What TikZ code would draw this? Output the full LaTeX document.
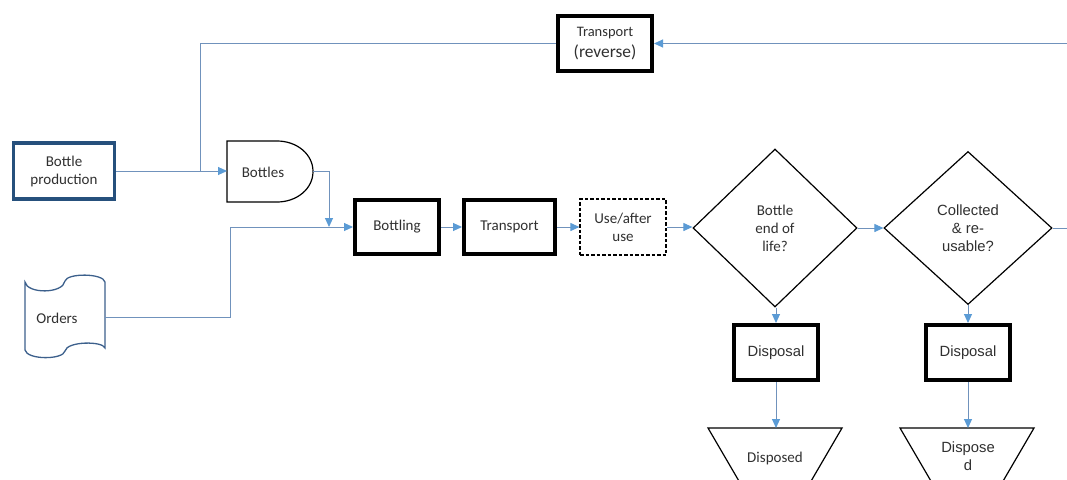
\documentclass[tikz,border=0pt]{standalone}
\usepackage{fontspec}
\setmainfont{Carlito}
\newfontfamily\arialfont{Liberation Sans}
\usetikzlibrary{arrows.meta,shapes.geometric}

\definecolor{txt}{HTML}{303030}
\definecolor{conn}{RGB}{112,146,188}
\definecolor{tip}{HTML}{5B9BD5}
\definecolor{navy}{RGB}{38,80,124}
\definecolor{ordblue}{RGB}{60,96,140}

\tikzset{
  base/.style={font=\fontsize{15}{18}\selectfont, text=txt, align=center, inner sep=0pt},
  heavybox/.style={base, draw=black, line width=4pt, fill=white},
  usebox/.style={base, draw=black, line width=1.2pt, dash pattern=on 3.5pt off 2pt, fill=white},
  prodbox/.style={base, draw=navy, line width=3.2pt, fill=white},
  decision/.style={base, draw=black, line width=1.2pt, shape=diamond, fill=white},
  arialtext/.style={font=\arialfont\fontsize{14.8}{18}\selectfont},
  flow/.style={draw=conn, line width=1pt},
  flowarrow/.style={flow, -{Triangle[length=9pt,width=8pt,color=tip,fill=tip]}},
  plainlabel/.style={base}
}

\begin{document}
\begin{tikzpicture}[x=1pt,y=-1pt]
\useasboundingbox (0,0) rectangle (1067,479);
\clip (0,0) rectangle (1067,479);
\fill[white] (0,0) rectangle (1067,479);

% ---- process boxes ----
\node[prodbox, minimum width=101pt, minimum height=56pt] (bprod) at (64,171) {Bottle\\production};
\node[heavybox, minimum width=94pt, minimum height=55pt] (trev) at (605,43.5)
  {\fontsize{14.5}{17}\selectfont Transport\\[3pt]{\fontsize{17.4}{19}\selectfont (reverse)}};
\node[heavybox, minimum width=84pt, minimum height=54pt] (bottling) at (397,227) {Bottling};
\node[heavybox, minimum width=91pt, minimum height=54pt] (transport) at (509.5,227) {Transport};
\node[usebox, minimum width=86pt, minimum height=56pt] (use) at (623,227) {Use/after\\use};

% ---- decisions ----
\node[decision, minimum width=164pt, minimum height=158pt] (eol) at (775,228) {Bottle\\end of\\life?};
\node[decision, minimum width=168pt, minimum height=153pt, arialtext] (reuse) at (968,228) {Collected\\\&~re-\\usable?};

% ---- disposal ----
\node[heavybox, minimum width=84pt, minimum height=55pt, arialtext] (disp1) at (776,352.5) {Disposal};
\node[heavybox, minimum width=84pt, minimum height=55pt, arialtext] (disp2) at (968,352.5) {Disposal};

% ---- Bottles (delay shape) ----
\draw[black, line width=1.2pt, fill=white]
  (227,141) -- (277,141)
  .. controls (296.9,141) and (313,154.2) .. (313,171.5)
  .. controls (313,188.8) and (296.9,202) .. (277,202)
  -- (227,202) -- cycle;
\node[plainlabel] (bottles) at (263,172) {Bottles};
\coordinate (bottlesW) at (227,171);
\coordinate (bottlesE) at (313,171.5);

% ---- Orders (punched tape) ----
\draw[ordblue, line width=1.3pt, fill=white]
  (25,282) .. controls (27,294) and (63,294) .. (65,281)
  .. controls (67,273) and (103,273) .. (105,282)
  -- (105,348)
  .. controls (103,341) and (67,341) .. (65,351)
  .. controls (63,360) and (27,360) .. (25,350) -- cycle;
\node[plainlabel] (orders) at (57,318) {Orders};
\coordinate (ordersE) at (105,317);

% ---- stored bottles (open-bottom trapezoids) ----
\draw[black, line width=1.2pt, fill=white]
  (708,428) -- (842,428) -- (842-42,500) -- (708+42,500) -- cycle;
\coordinate (dsd1top) at (776,428);
\node[plainlabel] (dsd1) at (775,458) {Disposed};
\draw[black, line width=1.2pt, fill=white]
  (900,428) -- (1034,428) -- (1034-42,500) -- (900+42,500) -- cycle;
\coordinate (dsd2top) at (968,428);
\node[plainlabel, arialtext] (dsd2) at (968,456) {Dispose\\d};

% ---- connector waypoints ----
\coordinate (merge) at (200,171);
\coordinate (revin) at (1067,43.5);
\coordinate (bottlesdrop) at (329,227);
\coordinate (ordersbend) at (230,227);
\coordinate (reuseout) at (1067,228);

% ---- connectors ----
\draw[flowarrow] (bprod.east |- bottlesW) -- (bottlesW);
\draw[flow] (trev.west) -| (merge);
\draw[flowarrow] (revin) -- (trev.east);
\draw[flowarrow] (bottlesE) -| (bottlesdrop);
\draw[flowarrow] (ordersE) -| (ordersbend) -- (bottling.west);
\draw[flowarrow] (bottling) -- (transport);
\draw[flowarrow] (transport) -- (use);
\draw[flowarrow] (use) -- (use -| eol.west);
\draw[flowarrow] (eol.east) -- (eol.east -| reuse.west);
\draw[flow] (reuse.east) -- (reuseout);
\draw[flowarrow] (disp1.north |- eol.south) -- (disp1.north);
\draw[flowarrow] (disp2.north |- reuse.south) -- (disp2.north);
\draw[flowarrow] (disp1.south) -- (dsd1top);
\draw[flowarrow] (disp2.south) -- (dsd2top);
\end{tikzpicture}
\end{document}
